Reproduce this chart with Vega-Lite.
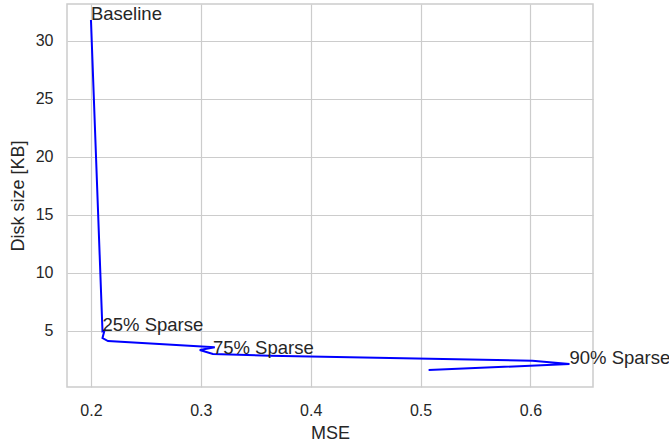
{
  "$schema": "https://vega.github.io/schema/vega-lite/v6.json",
  "width": 526,
  "height": 383,
  "autosize": {"type": "none"},
  "padding": {"left": 67, "top": 4, "right": 76, "bottom": 57},
  "background": "white",
  "config": {
    "font": "Liberation Sans",
    "view": {"stroke": "#cccccc", "strokeWidth": 1.5},
    "axis": {
      "domain": false,
      "ticks": false,
      "tickSize": 0,
      "grid": true,
      "gridColor": "#cccccc",
      "gridWidth": 1.2,
      "labelFont": "Liberation Sans",
      "labelFontSize": 16,
      "labelColor": "#262626",
      "titleFont": "Liberation Sans",
      "titleFontSize": 18,
      "titleFontWeight": "normal",
      "titleColor": "#262626"
    }
  },
  "data": {
    "values": [
      {"i": 0, "mse": 0.200, "size": 31.78, "label": "Baseline"},
      {"i": 1, "mse": 0.2105, "size": 4.95, "label": "25% Sparse"},
      {"i": 2, "mse": 0.2123, "size": 5.02, "label": null},
      {"i": 3, "mse": 0.2105, "size": 4.37, "label": null},
      {"i": 4, "mse": 0.2155, "size": 4.11, "label": null},
      {"i": 5, "mse": 0.3127, "size": 3.57, "label": null},
      {"i": 6, "mse": 0.299, "size": 3.34, "label": null},
      {"i": 7, "mse": 0.311, "size": 2.99, "label": "75% Sparse"},
      {"i": 8, "mse": 0.3627, "size": 2.84, "label": null},
      {"i": 9, "mse": 0.6018, "size": 2.41, "label": null},
      {"i": 10, "mse": 0.6355, "size": 2.13, "label": "90% Sparse"},
      {"i": 11, "mse": 0.5073, "size": 1.61, "label": null}
    ]
  },
  "encoding": {
    "x": {
      "field": "mse",
      "type": "quantitative",
      "scale": {"domain": [0.1782, 0.6569], "nice": false, "zero": false},
      "axis": {
        "title": "MSE",
        "values": [0.2, 0.3, 0.4, 0.5, 0.6],
        "format": ".1f",
        "labelPadding": 15,
        "titleY": 51,
        "titleBaseline": "alphabetic"
      }
    },
    "y": {
      "field": "size",
      "type": "quantitative",
      "scale": {"domain": [0.15, 33.16], "nice": false, "zero": false},
      "axis": {
        "title": "Disk size [KB]",
        "values": [5, 10, 15, 20, 25, 30],
        "labelPadding": 14,
        "titleX": -49,
        "titleY": 191.5,
        "titleAngle": -90,
        "titleAlign": "center",
        "titleBaseline": "middle"
      }
    }
  },
  "layer": [
    {
      "mark": {"type": "line", "color": "#0000ff", "strokeWidth": 2, "clip": true},
      "encoding": {"order": {"field": "i", "type": "quantitative"}}
    },
    {
      "transform": [{"filter": "datum.label != null"}],
      "mark": {"type": "text", "align": "left", "baseline": "alphabetic", "fontSize": 18.5, "color": "#262626", "font": "Liberation Sans"},
      "encoding": {"text": {"field": "label"}}
    }
  ]
}
